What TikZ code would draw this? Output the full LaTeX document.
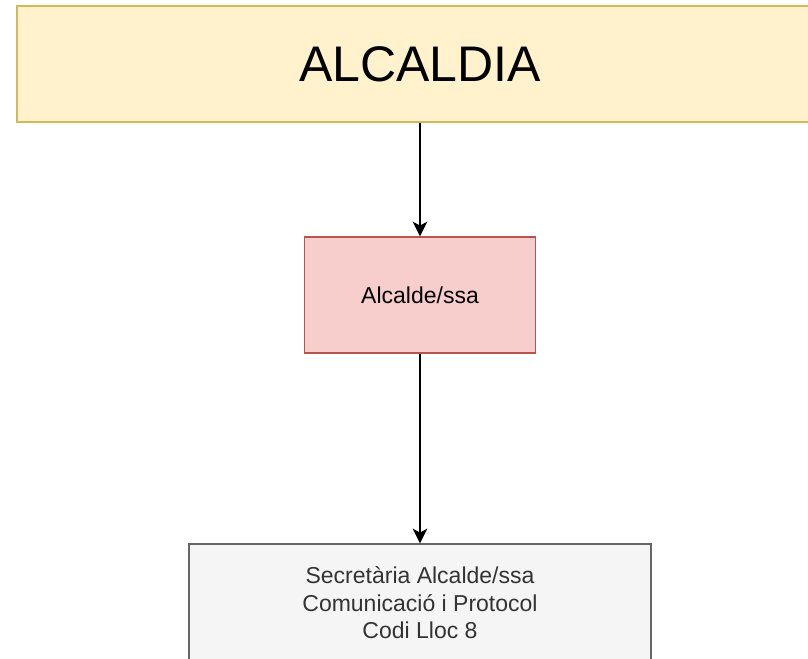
\documentclass[tikz,border=0pt]{standalone}
\usepackage{fontspec}
\setmainfont{Liberation Sans}
\usetikzlibrary{arrows.meta}
\definecolor{yelfill}{HTML}{FFF2CC}
\definecolor{yeldraw}{HTML}{D6B656}
\definecolor{redfill}{HTML}{F8CECC}
\definecolor{reddraw}{HTML}{B85450}
\definecolor{grayfill}{HTML}{F5F5F5}
\definecolor{graydraw}{HTML}{666666}
\definecolor{graytext}{HTML}{333333}
\begin{document}
\begin{tikzpicture}[x=0.75pt,y=-0.75pt,
  box/.style={rectangle, inner sep=0pt, line width=1.1pt, align=center},
  arr/.style={line width=1.4pt, -{Stealth[length=11pt,width=11pt,inset=3pt]}},
  midfont/.style={font=\fontsize{17.25}{20.6}\selectfont}
]
\useasboundingbox (0,0) rectangle (808,659);
\clip (0,0) rectangle (808,659);
\fill[white] (0,0) rectangle (808,659);
\node[box, fill=yelfill, draw=yeldraw, minimum width=604.5pt, minimum height=87pt,
      font=\fontsize{37.5}{45}\selectfont] (top) at (420,64) {ALCALDIA};
\node[box, fill=redfill, draw=reddraw, minimum width=173.25pt, minimum height=87pt,
      midfont] (alc) at (420,295) {Alcalde/ssa};
\node[box, fill=grayfill, draw=graydraw, minimum width=346.5pt, minimum height=88.5pt,
      midfont, text=graytext] (sec) at (420,603) {Secretària Alcalde/ssa\\Comunicació i Protocol\\Codi Lloc 8};
\draw[arr] (top.south) -- (alc.north);
\draw[arr] (alc.south) -- (sec.north);
\end{tikzpicture}
\end{document}
